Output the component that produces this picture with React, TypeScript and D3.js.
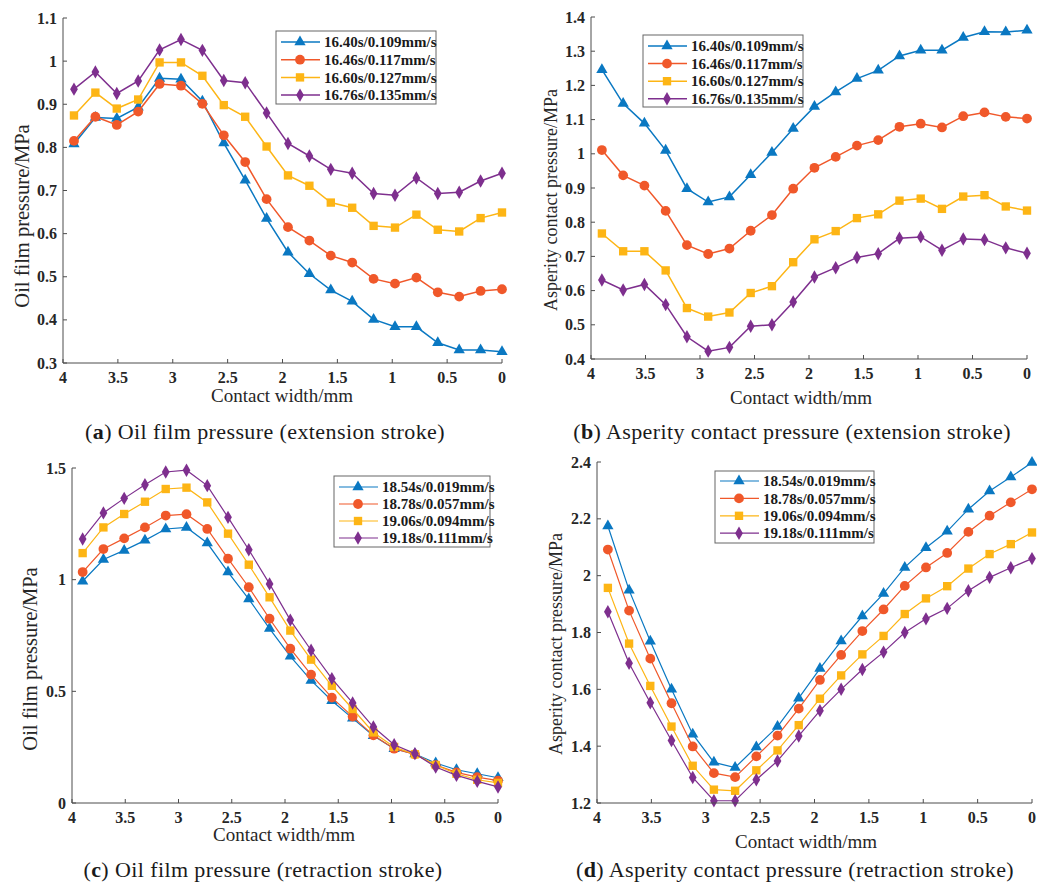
import * as d3 from "d3";

// contact width sampling (mm), same for every curve
const CONTACT_WIDTH = [
  3.9, 3.705, 3.51, 3.315, 3.12, 2.925, 2.73, 2.535, 2.34, 2.145, 1.95,
  1.755, 1.56, 1.365, 1.17, 0.975, 0.78, 0.585, 0.39, 0.195, 0,
];
const X_TICKS = [4, 3.5, 3, 2.5, 2, 1.5, 1, 0.5, 0];
const X_TICK_LABELS = ["4", "3.5", "3", "2.5", "2", "1.5", "1", "0.5", "0"];

const EXT_LABELS = ["16.40s/0.109mm/s", "16.46s/0.117mm/s", "16.60s/0.127mm/s", "16.76s/0.135mm/s"];
const RET_LABELS = ["18.54s/0.019mm/s", "18.78s/0.057mm/s", "19.06s/0.094mm/s", "19.18s/0.111mm/s"];

// (a) oil film pressure, extension stroke
const OIL_EXT_A = [0.808, 0.869, 0.867, 0.893, 0.96, 0.958, 0.907, 0.81, 0.724, 0.635, 0.557, 0.507, 0.469, 0.443, 0.401, 0.384, 0.384, 0.347, 0.33, 0.33, 0.326];
const OIL_EXT_B = [0.815, 0.871, 0.852, 0.883, 0.947, 0.943, 0.901, 0.828, 0.766, 0.68, 0.615, 0.584, 0.549, 0.533, 0.495, 0.484, 0.498, 0.464, 0.454, 0.467, 0.471];
const OIL_EXT_C = [0.874, 0.927, 0.89, 0.911, 0.997, 0.997, 0.966, 0.898, 0.871, 0.802, 0.735, 0.711, 0.672, 0.66, 0.618, 0.614, 0.644, 0.609, 0.605, 0.636, 0.649];
const OIL_EXT_D = [0.935, 0.975, 0.925, 0.954, 1.026, 1.05, 1.025, 0.955, 0.95, 0.88, 0.809, 0.78, 0.749, 0.74, 0.693, 0.689, 0.729, 0.693, 0.696, 0.722, 0.74];

// (b) asperity contact pressure, extension stroke
const ASP_EXT_A = [1.246, 1.147, 1.089, 1.01, 0.898, 0.859, 0.874, 0.939, 1.004, 1.074, 1.138, 1.181, 1.22, 1.244, 1.286, 1.303, 1.303, 1.34, 1.357, 1.356, 1.361];
const ASP_EXT_B = [1.011, 0.937, 0.907, 0.833, 0.733, 0.707, 0.723, 0.775, 0.821, 0.898, 0.959, 0.991, 1.024, 1.04, 1.079, 1.088, 1.077, 1.11, 1.121, 1.108, 1.103];
const ASP_EXT_C = [0.767, 0.715, 0.715, 0.659, 0.549, 0.524, 0.536, 0.593, 0.613, 0.683, 0.75, 0.774, 0.812, 0.823, 0.863, 0.869, 0.839, 0.875, 0.879, 0.846, 0.834];
const ASP_EXT_D = [0.631, 0.602, 0.618, 0.559, 0.465, 0.423, 0.434, 0.496, 0.5, 0.567, 0.64, 0.667, 0.697, 0.708, 0.753, 0.757, 0.718, 0.751, 0.749, 0.725, 0.709];

// (c) oil film pressure, retraction stroke
const OIL_RET_A = [0.993, 1.09, 1.131, 1.176, 1.227, 1.234, 1.164, 1.034, 0.913, 0.781, 0.657, 0.549, 0.458, 0.379, 0.301, 0.243, 0.219, 0.179, 0.149, 0.131, 0.113];
const OIL_RET_B = [1.034, 1.137, 1.185, 1.234, 1.287, 1.293, 1.227, 1.094, 0.966, 0.825, 0.691, 0.575, 0.472, 0.387, 0.303, 0.243, 0.218, 0.17, 0.137, 0.116, 0.1];
const OIL_RET_C = [1.119, 1.234, 1.294, 1.349, 1.406, 1.412, 1.346, 1.206, 1.067, 0.921, 0.772, 0.642, 0.525, 0.421, 0.316, 0.251, 0.218, 0.17, 0.131, 0.104, 0.09];
const OIL_RET_D = [1.182, 1.299, 1.364, 1.425, 1.482, 1.49, 1.421, 1.279, 1.134, 0.981, 0.819, 0.684, 0.557, 0.448, 0.34, 0.261, 0.221, 0.161, 0.124, 0.097, 0.072];

// (d) asperity contact pressure, retraction stroke
const ASP_RET_A = [2.175, 1.949, 1.769, 1.6, 1.442, 1.343, 1.325, 1.397, 1.469, 1.569, 1.673, 1.77, 1.858, 1.937, 2.029, 2.098, 2.156, 2.234, 2.298, 2.347, 2.398];
const ASP_RET_B = [2.092, 1.877, 1.708, 1.551, 1.399, 1.305, 1.291, 1.364, 1.437, 1.532, 1.633, 1.721, 1.805, 1.881, 1.964, 2.029, 2.08, 2.154, 2.211, 2.258, 2.304];
const ASP_RET_C = [1.957, 1.761, 1.612, 1.469, 1.331, 1.247, 1.243, 1.315, 1.385, 1.474, 1.567, 1.649, 1.723, 1.788, 1.865, 1.92, 1.963, 2.025, 2.076, 2.111, 2.152];
const ASP_RET_D = [1.873, 1.692, 1.553, 1.42, 1.29, 1.208, 1.208, 1.282, 1.348, 1.436, 1.525, 1.6, 1.67, 1.731, 1.8, 1.848, 1.885, 1.947, 1.994, 2.028, 2.06];

const Y_TICKS_A = [0.3, 0.4, 0.5, 0.6, 0.7, 0.8, 0.9, 1.0, 1.1];
const Y_LABELS_A = ["0.3", "0.4", "0.5", "0.6", "0.7", "0.8", "0.9", "1", "1.1"];
const Y_TICKS_B = [0.4, 0.5, 0.6, 0.7, 0.8, 0.9, 1.0, 1.1, 1.2, 1.3, 1.4];
const Y_LABELS_B = ["0.4", "0.5", "0.6", "0.7", "0.8", "0.9", "1", "1.1", "1.2", "1.3", "1.4"];
const Y_TICKS_C = [0, 0.5, 1, 1.5];
const Y_LABELS_C = ["0", "0.5", "1", "1.5"];
const Y_TICKS_D = [1.2, 1.4, 1.6, 1.8, 2.0, 2.2, 2.4];
const Y_LABELS_D = ["1.2", "1.4", "1.6", "1.8", "2", "2.2", "2.4"];

const COLORS = ["#0a78c2", "#f0582a", "#fdb515", "#7e2f8e"];
const SYMBOLS = [d3.symbolTriangle, d3.symbolCircle, d3.symbolSquare, d3.symbolDiamond];
const SYMBOL_SIZES = [55, 75, 70, 52];

const SERIF = "'Liberation Serif', 'Times New Roman', serif";

interface PanelProps {
  box: { left: number; right: number; top: number; bottom: number };
  yDomain: [number, number];
  yTicks: number[];
  yTickLabels: string[];
  series: number[][];
  labels: string[];
  legend: { x: number; y: number; w: number; h: number; row0: number; rowGap: number };
  yTitle: string;
  yTitleSize: number;
  yTitlePos: [number, number];
  xTitlePos: [number, number];
  lineWidth: number;
}

function Panel({ box, yDomain, yTicks, yTickLabels, series, labels, legend, yTitle, yTitleSize, yTitlePos, xTitlePos, lineWidth }: PanelProps) {
  const x = d3.scaleLinear().domain([4, 0]).range([box.left, box.right]);
  const y = d3.scaleLinear().domain(yDomain).range([box.bottom, box.top]);
  const line = d3
    .line<number>()
    .x((_, i) => x(CONTACT_WIDTH[i]))
    .y((d) => y(d));
  const axisColor = "#4d4d4d";

  return (
    <g>
      {/* curves */}
      {series.map((vals, s) => (
        <g key={s}>
          <path d={line(vals) ?? ""} fill="none" stroke={COLORS[s]} strokeWidth={lineWidth} />
          {vals.map((v, i) => (
            <path
              key={i}
              transform={`translate(${x(CONTACT_WIDTH[i])},${y(v)})`}
              d={d3.symbol(SYMBOLS[s], SYMBOL_SIZES[s])() ?? ""}
              fill={COLORS[s]}
            />
          ))}
        </g>
      ))}

      {/* axes: left + bottom spine, inward ticks */}
      <path
        d={`M${box.left},${box.top}V${box.bottom}H${box.right}`}
        fill="none"
        stroke={axisColor}
        strokeWidth={1}
      />
      {X_TICKS.map((t, i) => (
        <g key={t}>
          <line x1={x(t)} x2={x(t)} y1={box.bottom} y2={box.bottom - 4} stroke={axisColor} />
          <text
            x={x(t)}
            y={box.bottom + 20}
            textAnchor="middle"
            fontFamily={SERIF}
            fontWeight="bold"
            fontSize={16}
            fill="#262626"
          >
            {X_TICK_LABELS[i]}
          </text>
        </g>
      ))}
      {yTicks.map((t, i) => (
        <g key={t}>
          <line x1={box.left} x2={box.left + 4} y1={y(t)} y2={y(t)} stroke={axisColor} />
          <text
            x={box.left - 6}
            y={y(t)}
            dy="0.35em"
            textAnchor="end"
            fontFamily={SERIF}
            fontWeight="bold"
            fontSize={16}
            fill="#262626"
          >
            {yTickLabels[i]}
          </text>
        </g>
      ))}

      {/* axis titles */}
      <text
        x={xTitlePos[0]}
        y={xTitlePos[1]}
        textAnchor="middle"
        fontFamily={SERIF}
        fontSize={19}
        fill="#262626"
      >
        Contact width/mm
      </text>
      <text
        transform={`translate(${yTitlePos[0]},${yTitlePos[1]}) rotate(-90)`}
        textAnchor="middle"
        dominantBaseline="central"
        fontFamily={SERIF}
        fontSize={yTitleSize}
        fill="#262626"
      >
        {yTitle}
      </text>

      {/* legend */}
      <rect x={legend.x} y={legend.y} width={legend.w} height={legend.h} fill="#fff" stroke="#666" strokeWidth={1} />
      {labels.map((lab, s) => {
        const ry = legend.row0 + s * legend.rowGap;
        return (
          <g key={lab}>
            <line x1={legend.x + 5} x2={legend.x + 44} y1={ry} y2={ry} stroke={COLORS[s]} strokeWidth={lineWidth} />
            <path
              transform={`translate(${legend.x + 24},${ry})`}
              d={d3.symbol(SYMBOLS[s], SYMBOL_SIZES[s])() ?? ""}
              fill={COLORS[s]}
            />
            <text
              x={legend.x + 48}
              y={ry}
              dy="0.35em"
              fontFamily={SERIF}
              fontWeight="bold"
              fontSize={15}
              fill="#1a1a1a"
            >
              {lab}
            </text>
          </g>
        );
      })}
    </g>
  );
}

function Caption({ x, y, letter, text }: { x: number; y: number; letter: string; text: string }) {
  return (
    <text x={x} y={y} textAnchor="middle" fontFamily={SERIF} fontSize={22} letterSpacing={0.4} fill="#1a1a1a">
      <tspan>(</tspan>
      <tspan fontWeight="bold">{letter}</tspan>
      <tspan>) {text}</tspan>
    </text>
  );
}

export default function App() {
  return (
    <svg
      width={1037}
      height={884}
      style={{ position: "absolute", left: 0, top: 0, background: "#fff" }}
    >
      <Panel
        box={{ left: 63, right: 502, top: 18, bottom: 363 }}
        yDomain={[0.3, 1.1]}
        yTicks={Y_TICKS_A}
        yTickLabels={Y_LABELS_A}
        series={[OIL_EXT_A, OIL_EXT_B, OIL_EXT_C, OIL_EXT_D]}
        labels={EXT_LABELS}
        legend={{ x: 276, y: 31, w: 160, h: 73, row0: 42, rowGap: 17.7 }}
        yTitle="Oil film pressure/MPa"
        yTitleSize={20.5}
        yTitlePos={[22, 216]}
        xTitlePos={[282, 402]}
        lineWidth={1.5}
      />
      <Panel
        box={{ left: 591, right: 1027, top: 17, bottom: 359 }}
        yDomain={[0.4, 1.4]}
        yTicks={Y_TICKS_B}
        yTickLabels={Y_LABELS_B}
        series={[ASP_EXT_A, ASP_EXT_B, ASP_EXT_C, ASP_EXT_D]}
        labels={EXT_LABELS}
        legend={{ x: 643, y: 35, w: 160, h: 72, row0: 46, rowGap: 17.6 }}
        yTitle="Asperity contact pressure/MPa"
        yTitleSize={18}
        yTitlePos={[551, 200]}
        xTitlePos={[801, 404]}
        lineWidth={1.5}
      />
      <Panel
        box={{ left: 72, right: 498, top: 468, bottom: 803 }}
        yDomain={[0, 1.5]}
        yTicks={Y_TICKS_C}
        yTickLabels={Y_LABELS_C}
        series={[OIL_RET_A, OIL_RET_B, OIL_RET_C, OIL_RET_D]}
        labels={RET_LABELS}
        legend={{ x: 334, y: 476, w: 156, h: 71, row0: 487, rowGap: 17 }}
        yTitle="Oil film pressure/MPa"
        yTitleSize={20.5}
        yTitlePos={[30, 659]}
        xTitlePos={[284, 841]}
        lineWidth={1.2}
      />
      <Panel
        box={{ left: 597, right: 1032, top: 462, bottom: 803 }}
        yDomain={[1.2, 2.4]}
        yTicks={Y_TICKS_D}
        yTickLabels={Y_LABELS_D}
        series={[ASP_RET_A, ASP_RET_B, ASP_RET_C, ASP_RET_D]}
        labels={RET_LABELS}
        legend={{ x: 715, y: 471, w: 159, h: 72, row0: 481, rowGap: 17.4 }}
        yTitle="Asperity contact pressure/MPa"
        yTitleSize={18}
        yTitlePos={[556, 644]}
        xTitlePos={[806, 848]}
        lineWidth={1.2}
      />

      <Caption x={265} y={439} letter="a" text="Oil film pressure (extension stroke)" />
      <Caption x={792} y={439} letter="b" text="Asperity contact pressure (extension stroke)" />
      <Caption x={263} y={877} letter="c" text="Oil film pressure (retraction stroke)" />
      <Caption x={795} y={877} letter="d" text="Asperity contact pressure (retraction stroke)" />
    </svg>
  );
}
